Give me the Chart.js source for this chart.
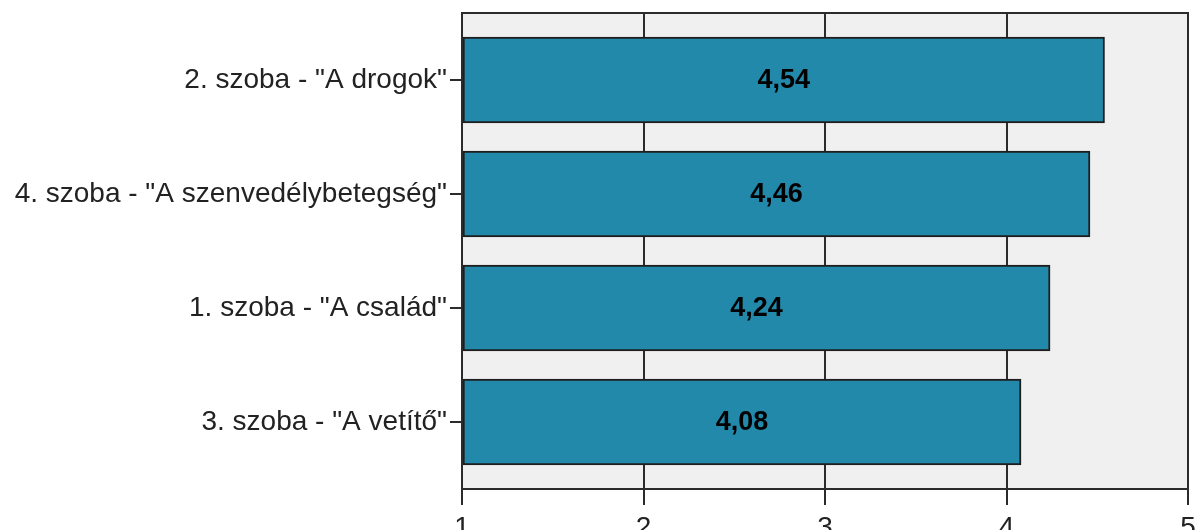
<!DOCTYPE html>
<html>
<head>
<meta charset="utf-8">
<script src="https://cdn.jsdelivr.net/npm/chart.js@4/dist/chart.umd.min.js"></script>
<style>
  html, body { margin: 0; padding: 0; background: #fff; }
  #wrap { width: 1196px; height: 530px; }
</style>
</head>
<body>
<div id="wrap"><canvas id="chart" width="1196" height="530"></canvas></div>
<script>
const rooms = [
    '2. szoba - "A drogok"',
    '4. szoba - "A szenvedélybetegség"',
    '1. szoba - "A család"',
    '3. szoba - "A vetítő"'
];
const means = [4.54, 4.46, 4.24, 4.08];
const xTicks = [1, 2, 3, 4, 5];

const dark = "#2b2b2b";
const fontFamily = "'Liberation Sans', Arial, sans-serif";

// plot background + frame
const framePlugin = {
    id: "frame",
    beforeDraw(chart) {
        const { ctx, chartArea: a } = chart;
        ctx.save();
        ctx.fillStyle = "#f0f0f0";
        ctx.fillRect(a.left, a.top, a.right - a.left, a.bottom - a.top);
        ctx.restore();
    },
    afterDraw(chart) {
        const { ctx, chartArea: a } = chart;
        ctx.save();
        ctx.strokeStyle = dark;
        ctx.lineWidth = 2;
        ctx.strokeRect(a.left, a.top, a.right - a.left, a.bottom - a.top);
        ctx.restore();
    }
};

// mean value written in the middle of each bar
const valueLabels = {
    id: "valueLabels",
    afterDatasetsDraw(chart) {
        const ctx = chart.ctx;
        const meta = chart.getDatasetMeta(0);
        ctx.save();
        ctx.font = "bold 27px " + fontFamily;
        ctx.fillStyle = "#000";
        ctx.textAlign = "center";
        ctx.textBaseline = "middle";
        meta.data.forEach((bar, i) => {
            const text = means[i].toFixed(2).replace(".", ",");
            ctx.fillText(text, (bar.x + bar.base) / 2, bar.y + 1);
        });
        ctx.restore();
    }
};

new Chart("chart", {
    type: "bar",
    data: {
        datasets: [{
            data: means.map((v, i) => ({ x: v, y: i })),
            base: 1,
            backgroundColor: "#2389aa",
            borderColor: "#1e1e1e",
            borderWidth: 2,
            borderSkipped: false,
            barThickness: 86
        }]
    },
    options: {
        indexAxis: "y",
        responsive: false,
        animation: false,
        layout: { padding: { top: 13, right: 8, left: 0, bottom: 0 } },
        plugins: {
            legend: { display: false },
            tooltip: { enabled: false }
        },
        scales: {
            x: {
                type: "linear",
                min: 1,
                max: 5,
                afterBuildTicks: (axis) => { axis.ticks = xTicks.map(v => ({ value: v })); },
                afterFit: (axis) => {
                    axis.height = 41;
                    axis.paddingLeft = 0;
                    axis.paddingRight = 0;
                },
                grid: {
                    color: dark,
                    lineWidth: 2,
                    tickLength: 16
                },
                border: { display: false },
                ticks: {
                    color: "#222",
                    padding: 6,
                    font: { family: fontFamily, size: 28 }
                }
            },
            y: {
                type: "linear",
                reverse: true,
                offset: false,
                min: -0.588,
                max: 3.588,
                afterBuildTicks: (axis) => { axis.ticks = rooms.map((r, i) => ({ value: i })); },
                afterFit: (axis) => {
                    axis.width = 462;
                    axis.paddingTop = 0;
                    axis.paddingBottom = 0;
                },
                grid: {
                    offset: false,
                    drawOnChartArea: false,
                    color: dark,
                    lineWidth: 2,
                    tickLength: 12
                },
                border: { display: false },
                ticks: {
                    color: "#222",
                    padding: 3,
                    font: { family: fontFamily, size: 28 },
                    callback: (value) => rooms[value]
                }
            }
        }
    },
    plugins: [framePlugin, valueLabels]
});
</script>
</body>
</html>
